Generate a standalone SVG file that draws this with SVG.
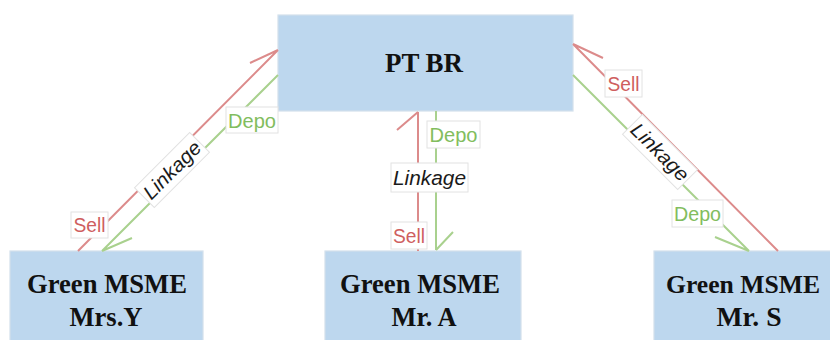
<svg xmlns="http://www.w3.org/2000/svg" width="830" height="340" viewBox="0 0 830 340">
<style>
.box{fill:#BDD7EE;stroke:#D3E0EC;stroke-width:1.2}
.nt{font-family:"Liberation Serif","Times New Roman",serif;font-weight:bold;font-size:28px;fill:#111;text-anchor:middle}
.r{fill:none;stroke:#DC8B8B;stroke-width:2}
.g{fill:none;stroke:#A9D18E;stroke-width:2}
.lb{fill:#fff;stroke:#E2E2E2;stroke-width:1}
.lt{font-family:"Liberation Sans",Arial,sans-serif;font-size:20px;text-anchor:middle}
.sell{fill:#CF5F5F}
.depo{fill:#82BD5E}
.link{fill:#1a1a1a;font-style:italic}
</style>
<rect width="830" height="340" fill="#fff"/>
<g id="ptbr">
<rect class="box" x="278" y="15" width="295" height="96"/>
<text class="nt" x="424" y="72" textLength="78" lengthAdjust="spacingAndGlyphs">PT BR</text>
</g>
<g id="mrsy">
<rect class="box" x="10" y="251" width="193" height="90"/>
<text class="nt" x="107" y="293" textLength="160" lengthAdjust="spacingAndGlyphs">Green MSME</text>
<text class="nt" x="106" y="326" textLength="73" lengthAdjust="spacingAndGlyphs">Mrs.Y</text>
</g>
<g id="mra">
<rect class="box" x="325" y="251" width="196" height="90"/>
<text class="nt" x="420" y="293" textLength="160" lengthAdjust="spacingAndGlyphs">Green MSME</text>
<text class="nt" x="424" y="326" textLength="65" lengthAdjust="spacingAndGlyphs">Mr. A</text>
</g>
<g id="mrs">
<rect class="box" x="654" y="251" width="177" height="90"/>
<text class="nt" x="743" y="293" style="font-size:26px" textLength="154" lengthAdjust="spacingAndGlyphs">Green MSME</text>
<text class="nt" x="749" y="326" textLength="65" lengthAdjust="spacingAndGlyphs">Mr. S</text>
</g>
<g id="connectors">
<path class="r" d="M78,251 L278,50 M250,63 L278,50"/>
<path class="g" d="M278,75 L102,251 M132,238 L102,251"/>
<path class="r" d="M418,251 L418,112 M397,130 L418,112"/>
<path class="g" d="M436,111 L436,250 M453,232 L436,250"/>
<path class="r" d="M778,251 L573,44 M603,58 L573,44"/>
<path class="g" d="M573,75 L749,251 M715,237 L749,251"/>
</g>
<g id="labels">
<rect class="lb" x="71" y="212" width="37" height="26"/>
<text class="lt sell" x="89.5" y="232" textLength="32" lengthAdjust="spacingAndGlyphs">Sell</text>
<rect class="lb" x="226" y="107" width="52" height="26"/>
<text class="lt depo" x="252" y="127.5" textLength="48" lengthAdjust="spacingAndGlyphs">Depo</text>
<g transform="translate(172,170) rotate(-45)">
<rect class="lb" x="-39" y="-14" width="78" height="28"/>
<text class="lt link" x="0" y="7" textLength="73" lengthAdjust="spacingAndGlyphs">Linkage</text>
</g>
<rect class="lb" x="427" y="121" width="53" height="27"/>
<text class="lt depo" x="453.5" y="141.5" textLength="48" lengthAdjust="spacingAndGlyphs">Depo</text>
<rect class="lb" x="391" y="163" width="77" height="29"/>
<text class="lt link" x="429.5" y="184.5" textLength="73" lengthAdjust="spacingAndGlyphs">Linkage</text>
<rect class="lb" x="391" y="222" width="36" height="27"/>
<text class="lt sell" x="409" y="242.5" textLength="32" lengthAdjust="spacingAndGlyphs">Sell</text>
<rect class="lb" x="605" y="70" width="37" height="27"/>
<text class="lt sell" x="623.5" y="90.5" textLength="32" lengthAdjust="spacingAndGlyphs">Sell</text>
<g transform="translate(660,152) rotate(45)">
<rect class="lb" x="-39" y="-14" width="78" height="28"/>
<text class="lt link" x="0" y="7" textLength="73" lengthAdjust="spacingAndGlyphs">Linkage</text>
</g>
<rect class="lb" x="672" y="200" width="51" height="27"/>
<text class="lt depo" x="697.5" y="220.5" textLength="47" lengthAdjust="spacingAndGlyphs">Depo</text>
</g>
</svg>
